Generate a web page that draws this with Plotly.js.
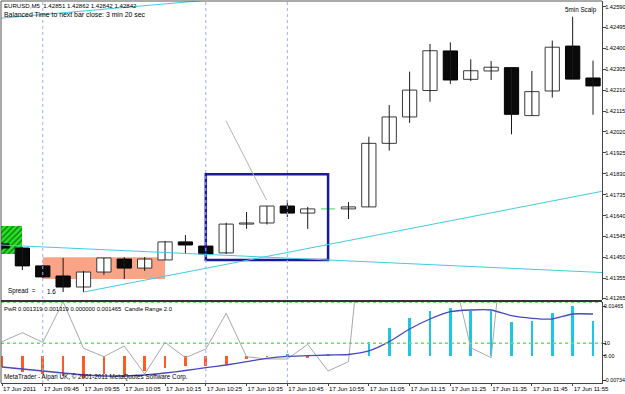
<!DOCTYPE html>
<html><head><meta charset="utf-8">
<script src="https://cdn.plot.ly/plotly-3.0.1.min.js"></script>
<style>html,body{margin:0;padding:0;background:#fff}#chart{width:625px;height:394px}</style>
</head><body><div id="chart"></div>
<script>
// ---- data (EURUSD M5, 17 Jun 2011) ----
const times = ['09:35','09:40','09:45','09:50','09:55','10:00','10:05','10:10','10:15','10:20',
               '10:25','10:30','10:35','10:40','10:45','10:50','10:55','11:00','11:05','11:10',
               '11:15','11:20','11:25','11:30','11:35','11:40','11:45','11:50','11:55','12:00'];
const opens  = [1.41511,1.41492,1.41411,1.41365,1.41315,1.41383,1.41442,1.41401,1.41438,1.41520,
                1.41501,1.41470,1.41601,1.41606,1.41683,1.41651,1.41670,1.41670,1.41679,1.41968,
                1.42088,1.42208,1.42388,1.42259,1.42297,1.42312,1.42094,1.42206,1.42410,1.42265];
const highs  = [1.41520,1.41497,1.41415,1.41447,1.41388,1.41447,1.41451,1.41451,1.41524,1.41551,
                1.41506,1.41607,1.41656,1.41683,1.41711,1.41679,1.41671,1.41701,1.41998,1.42142,
                1.42294,1.42420,1.42427,1.42350,1.42342,1.42312,1.42297,1.42435,1.42544,1.42344];
const lows   = [1.41483,1.41392,1.41356,1.41292,1.41292,1.41370,1.41351,1.41388,1.41438,1.41465,
                1.41463,1.41465,1.41579,1.41599,1.41633,1.41579,1.41669,1.41624,1.41679,1.41935,
                1.42061,1.42157,1.42238,1.42251,1.42256,1.42009,1.42094,1.42176,1.42260,1.42098];
const closes = [1.41492,1.41411,1.41361,1.41315,1.41383,1.41447,1.41401,1.41442,1.41520,1.41506,
                1.41465,1.41601,1.41606,1.41683,1.41651,1.41670,1.41670,1.41679,1.41968,1.42088,
                1.42210,1.42389,1.42256,1.42298,1.42314,1.42100,1.42203,1.42405,1.42260,1.42229];

// PwR indicator sub-window
const pwrHist   = [-0.00333,-0.00480,-0.00539,-0.00598,-0.00643,-0.00539,-0.00613,-0.00451,-0.00377,-0.00318,
                   -0.00318,-0.00274,-0.00097,-0.00038,0.00065,-0.00053,0.00050,0.00000,0.00413,0.00817,
                   0.01102,0.01326,0.01397,0.01326,0.01326,0.00985,0.01032,0.01250,0.01465,0.01032];
const pwrSignal = [-0.00333,-0.00392,-0.00451,-0.00510,-0.00569,-0.00598,-0.00598,-0.00569,-0.00510,-0.00436,
                   -0.00354,-0.00274,-0.00177,-0.00077,-0.00018,0.00000,0.00021,0.00035,0.00139,0.00413,
                   0.00787,0.01082,0.01297,0.01347,0.01347,0.01179,0.01102,0.01082,0.01229,0.01229];
const candleRange = [0.00413,0.00678,0.00395,0.01590,0.00218,-0.00029,0.00286,-0.00539,0.00395,-0.00059,
                     0.00197,0.01250,-0.00029,-0.00097,-0.00097,0.00336,-0.00451,-0.00177,0.05800,0.05000,
                     0.04500,0.04000,0.02800,0.00236,-0.00059,0.05800,0.05000,0.04500,0.05000,0.04000];

// axis ticks
const priceTicks = [1.42590,1.42495,1.42400,1.42305,1.42210,1.42115,1.42020,1.41925,1.41830,
                    1.41735,1.41640,1.41545,1.41450,1.41355,1.41265];
const subTicks = [0.01465, 0.003655, 0, -0.00734];
const subTickText = ['0.01465','10','0.00','-0.00734'];
const xTickIdx = [0,2,4,6,8,10,12,14,16,18,20,22,24,26,28];
const xTickText = ['17 Jun 2011','17 Jun 09:45','17 Jun 09:55','17 Jun 10:05','17 Jun 10:15',
                   '17 Jun 10:25','17 Jun 10:35','17 Jun 10:45','17 Jun 10:55','17 Jun 11:05',
                   '17 Jun 11:15','17 Jun 11:25','17 Jun 11:35','17 Jun 11:45','17 Jun 11:55'];

// ---- build ----
const idx = times.map((_, i) => i);
const bull = idx.filter(i => closes[i] > opens[i]);
const bear = idx.filter(i => closes[i] < opens[i]);
const doji = idx.filter(i => closes[i] === opens[i]);
const BODY = 0.7;

const wickX = [], wickY = [];
idx.filter(i => closes[i] !== opens[i]).forEach(i => { wickX.push(i, i, null); wickY.push(highs[i], lows[i], null); });
const dojiX = [], dojiY = [];
doji.forEach(i => { dojiX.push(i - BODY/2, i + BODY/2, null); dojiY.push(opens[i], closes[i], null); });

const FONT = '"Liberation Sans", Arial, sans-serif';
const FS = 6.1;

const traces = [
  { // green hatched object
    type:'bar', x:[0.475], base:[1.414650], y:[0.001273], width:[1.05],
    xaxis:'x', yaxis:'y', hoverinfo:'skip', showlegend:false,
    marker:{color:'#22dd22', line:{width:0},
            pattern:{shape:'/', bgcolor:'#28e028', fgcolor:'#0d7a0d', size:4, solidity:0.35}}
  },
  {type:'scatter', mode:'lines', x:wickX, y:wickY, xaxis:'x', yaxis:'y',
   line:{color:'#1a1a1a', width:1}, hoverinfo:'skip', showlegend:false},
  {type:'bar', x:bull, base:bull.map(i => opens[i]), y:bull.map(i => closes[i] - opens[i]), width:BODY,
   xaxis:'x', yaxis:'y', hoverinfo:'skip', showlegend:false,
   marker:{color:'#ffffff', line:{color:'#3a3a3a', width:1}}},
  {type:'bar', x:bear, base:bear.map(i => closes[i]), y:bear.map(i => opens[i] - closes[i]), width:BODY,
   xaxis:'x', yaxis:'y', hoverinfo:'skip', showlegend:false,
   marker:{color:'#0a0a0a', line:{color:'#000000', width:1}}},
  {type:'scatter', mode:'lines', x:dojiX, y:dojiY, xaxis:'x', yaxis:'y',
   line:{color:'#44e044', width:1}, hoverinfo:'skip', showlegend:false},
  {
    type:'bar', x:idx, y:pwrHist, xaxis:'x', yaxis:'y2', width:0.13, hoverinfo:'skip', showlegend:false,
    marker:{color:pwrHist.map(v => v < 0 ? '#ff5a26' : '#1ec6e6'), line:{width:0}}
  },
  {
    type:'scatter', mode:'lines', x:idx, y:candleRange, xaxis:'x', yaxis:'y2',
    line:{color:'#a8a8a8', width:1}, hoverinfo:'skip', showlegend:false
  },
  {
    type:'scatter', mode:'lines', x:idx, y:pwrSignal, xaxis:'x', yaxis:'y2',
    line:{color:'#4848be', width:1.3, shape:'spline', smoothing:0.6}, hoverinfo:'skip', showlegend:false
  }
];

const shapes = [
  {type:'rect', xref:'x', yref:'y', x0:2, x1:8, y0:1.413514, y1:1.414500, fillcolor:'#fba386', line:{width:0}, layer:'below'},
  {type:'rect', xref:'x', yref:'y', x0:10, x1:16, y0:1.414377, y1:1.418273, line:{color:'#1a1a9e', width:2.5}},
  {type:'line', xref:'x', yref:'y', x0:-0.05, y0:1.425369, x1:11, y1:1.426261, line:{color:'#3fcde0', width:1}},
  {type:'line', xref:'x', yref:'y', x0:-0.05, y0:1.415059, x1:29.44, y1:1.413809, line:{color:'#3fcde0', width:1}},
  {type:'line', xref:'x', yref:'y', x0:4, y0:1.41292, x1:29.44, y1:1.41750, line:{color:'#3fcde0', width:1}},
  {type:'line', xref:'x', yref:'y', x0:10.99, y0:1.42070, x1:12.98, y1:1.41710, line:{color:'#b4b4b4', width:1}},
  ...[2,10,14].map(v => ({type:'line', xref:'x', yref:'paper', x0:v, x1:v, y0:0, y1:1,
        line:{color:'#9db0ee', width:1, dash:'dot'}})),
  ...[0.01574, 0.003655].map(v => ({type:'line', xref:'paper', yref:'y2', x0:0, x1:1, y0:v, y1:v,
        line:{color:'#66e066', width:1.5, dash:'dot'}})),
  {type:'line', xref:'paper', yref:'paper', x0:0, x1:0, y0:0, y1:1, line:{color:'#555', width:1}},
  {type:'line', xref:'paper', yref:'paper', x0:0, x1:1, y0:1, y1:1, line:{color:'#555', width:1}},
  {type:'line', xref:'paper', yref:'paper', x0:0, x1:1, y0:0.2147, y1:0.2147, line:{color:'#333', width:2}}
];

const px = x => (x - 1) / 601;
const py = y => (383 - y) / 382;
const txt = (text, x, y, anchor, size) => ({text, xref:'paper', yref:'paper', x:px(x), y:py(y),
  xanchor:anchor || 'left', yanchor:'middle', showarrow:false,
  font:{family:FONT, size:size || FS, color:'#000'}, borderpad:0});

const annotations = [
  txt('EURUSD,M5\u00a0\u00a01.42851 1.42862 1.42842 1.42842', 3, 5.5),
  txt('Balanced Time to next bar close: 3 min 20 sec', 3, 14, 'left', 6.9),
  txt('5min Scalp', 598, 10, 'right', 6.3),
  txt('Spread\u00a0\u00a0=', 7, 291, 'left', 6.3),
  txt('1.6', 46, 291, 'left', 6.3),
  txt('PwR 0.001319 0.001319 0.000000 0.001465\u00a0\u00a0Candle Range 2.0', 3, 309, 'left', 5.9),
  txt('MetaTrader - Alpari UK, \u00a9 2001-2011 MetaQuotes Software Corp.', 3, 377, 'left', 6.3)
];

const axisCommon = {showgrid:false, zeroline:false, showline:true, linecolor:'#444', linewidth:1,
  ticks:'outside', ticklen:3, tickcolor:'#444', fixedrange:true, tickangle:0,
  tickfont:{family:FONT, size:FS, color:'#000'}};

const layout = {
  width:625, height:394,
  margin:{l:1, r:23, t:1, b:11, pad:0},
  paper_bgcolor:'#ffffff', plot_bgcolor:'#ffffff',
  showlegend:false, barmode:'overlay', bargap:0,
  font:{family:FONT, size:FS, color:'#000'},
  xaxis:Object.assign({}, axisCommon, {domain:[0,1], range:[-0.049, 29.44], anchor:'y2',
    tickmode:'array', tickvals:xTickIdx, ticktext:xTickText, ticklabelposition:'outside right', ticklen:2}),
  yaxis:Object.assign({}, axisCommon, {domain:[0.21597,1], range:[1.4125364, 1.42615], side:'right', anchor:'x',
    tickmode:'array', tickvals:priceTicks, ticktext:priceTicks.map(v => v.toFixed(5)),
    tickfont:{family:FONT, size:5.7, color:'#000'}, ticklabelstandoff:-2}),
  yaxis2:Object.assign({}, axisCommon, {domain:[0,0.21335], range:[-0.008047, 0.015977], side:'right', anchor:'x',
    tickmode:'array', tickvals:subTicks, ticktext:subTickText,
    tickfont:{family:FONT, size:5.3, color:'#000'}, ticklabelstandoff:-3}),
  shapes, annotations
};

Plotly.newPlot('chart', traces, layout, {displayModeBar:false, staticPlot:true});
</script>
</body></html>
